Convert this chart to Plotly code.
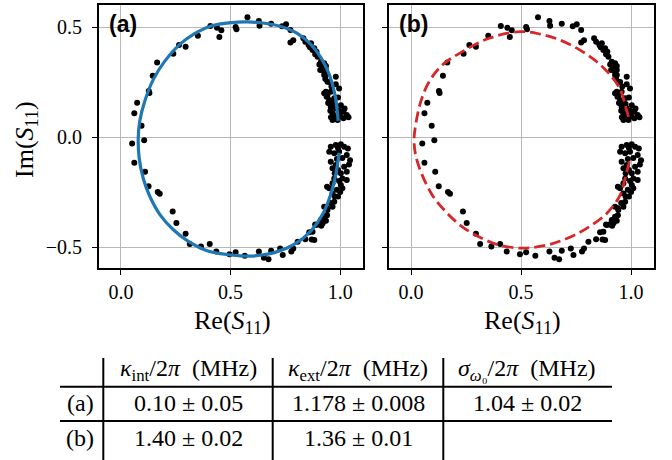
import plotly.graph_objects as go

# ---------------- data ----------------
re_s11 = [
    0.408, 0.438, 0.458, 0.449, 0.351, 0.265, 0.295, 0.239, 0.165, 0.145, 0.127, 0.130, 0.074, 0.061, 0.094, 0.106,
    0.051, 0.061, 0.110, 0.126, 0.168, 0.177, 0.236, 0.253, 0.295, 0.314, 0.365, 0.405, 0.435, 0.495,
    0.523, 0.565, 0.629, 0.652, 0.673, 0.685, 0.726, 0.738, 0.777, 0.786, 0.806, 0.841, 0.870, 0.859, 0.886, 0.901,
    0.914, 0.927, 0.940, 0.927, 0.940, 0.940,
    0.523, 0.527, 0.577, 0.629, 0.632, 0.685, 0.735, 0.753, 0.773, 0.773, 0.786, 0.832, 0.841, 0.856, 0.862, 0.874,
    0.886, 0.897, 0.905, 0.924, 0.935, 0.909, 0.927, 0.935, 0.932, 0.942, 0.927, 0.938,
    0.867, 0.882, 0.892, 0.912, 0.927, 0.920, 0.935, 0.927, 0.980, 0.995, 0.935, 0.942, 0.957, 0.950, 0.965, 0.973,
    0.957, 0.980, 1.003, 0.965, 0.988, 1.015, 1.030, 0.965, 0.988, 1.015, 1.038,
    0.950, 0.960, 0.945, 0.975, 0.955, 0.998, 0.975, 1.000, 0.958, 1.020, 0.990, 0.980,
    0.957, 0.980, 1.003, 1.018, 1.035, 0.950, 0.973, 0.995, 1.030, 1.045, 0.957, 0.980, 1.018, 1.030, 0.965, 1.003,
    1.010, 1.030, 0.973, 0.965, 1.003, 1.010, 0.950, 0.965, 0.973, 0.965, 0.942, 0.912, 0.920, 0.889, 0.874, 0.882,
    0.990, 1.010, 0.985, 0.990, 1.040, 0.975, 0.995, 0.985, 0.990, 0.975, 1.000, 0.955, 0.935,
]
im_s11 = [
    0.505, 0.497, 0.485, 0.455, 0.460, 0.418, 0.410, 0.379, 0.339, 0.279, 0.209, 0.200, 0.156, 0.108, 0.051, -0.015,
    -0.029, -0.117, -0.158, -0.223, -0.250, -0.258, -0.338, -0.391, -0.439, -0.486, -0.497, -0.486, -0.520, -0.532,
    -0.524, -0.539, -0.520, -0.548, -0.555, -0.517, -0.506, -0.536, -0.520, -0.506, -0.476, -0.464, -0.465, -0.433,
    -0.397, -0.397, -0.403, -0.362, -0.355, -0.317, -0.324, -0.226,
    0.500, 0.490, 0.544, 0.527, 0.506, 0.515, 0.503, 0.512, 0.486, 0.430, 0.440, 0.449, 0.433, 0.418, 0.408, 0.395,
    0.376, 0.365, 0.330, 0.327, 0.323, 0.305, 0.297, 0.282, 0.264, 0.251, 0.199, 0.183,
    0.426, 0.403, 0.388, 0.342, 0.335, 0.320, 0.305, 0.282, 0.274, 0.221, 0.206, 0.191, 0.206, 0.168, 0.160, 0.176,
    0.138, 0.130, 0.145, 0.108, 0.100, 0.115, 0.100, 0.077, 0.077, 0.085, 0.090,
    0.250, 0.230, 0.155, 0.150, 0.120, 0.118, 0.092, 0.095, 0.090, 0.130, 0.180, 0.240,
    -0.044, -0.036, -0.033, -0.044, -0.052, -0.067, -0.074, -0.067, -0.082, -0.105, -0.112, -0.127, -0.135, -0.158,
    -0.142, -0.165, -0.188, -0.195, -0.188, -0.210, -0.218, -0.233, -0.233, -0.256, -0.294, -0.317, -0.332, -0.377,
    -0.392, -0.400, -0.430, -0.468,
    -0.050, -0.095, -0.100, -0.150, -0.125, -0.165, -0.200, -0.240, -0.270, -0.270, -0.250, -0.300, -0.380,
]

fit_a_re = [0.991, 0.976, 0.950, 0.912, 0.866, 0.806, 0.730, 0.655, 0.579, 0.503, 0.412, 0.336, 0.268,
            0.200, 0.148, 0.109, 0.086, 0.079, 0.083, 0.101, 0.131, 0.177, 0.238, 0.306, 0.397, 0.503,
            0.594, 0.700, 0.790, 0.866, 0.920, 0.957, 0.980, 0.995]
fit_a_im = [0.073, 0.194, 0.285, 0.361, 0.421, 0.470, 0.502, 0.517, 0.523, 0.520, 0.505, 0.470, 0.421,
            0.345, 0.262, 0.164, 0.073, -0.003, -0.094, -0.185, -0.268, -0.351, -0.420, -0.473, -0.518,
            -0.536, -0.541, -0.525, -0.488, -0.427, -0.351, -0.260, -0.170, -0.071]

fit_b_re = [0.988, 0.973, 0.950, 0.905, 0.844, 0.768, 0.677, 0.586, 0.497, 0.355, 0.233, 0.142, 0.082,
            0.044, 0.021, 0.014, 0.021, 0.051, 0.097, 0.158, 0.233, 0.324, 0.400, 0.510, 0.617, 0.708,
            0.798, 0.889, 0.950, 0.973, 0.997]
fit_b_im = [0.092, 0.145, 0.218, 0.282, 0.342, 0.395, 0.441, 0.468, 0.479, 0.449, 0.388, 0.327, 0.251,
            0.160, 0.055, -0.010, -0.082, -0.173, -0.264, -0.339, -0.408, -0.461, -0.491, -0.505, -0.491,
            -0.461, -0.415, -0.347, -0.264, -0.188, -0.090]

x_ticks = [0.0, 0.5, 1.0]
y_ticks = [-0.5, 0.0, 0.5]
panel_labels = ["(a)", "(b)"]

table_header = ["<i>κ</i><sub>int</sub>/2<i>π</i>  (MHz)",
                "<i>κ</i><sub>ext</sub>/2<i>π</i>  (MHz)",
                "<i>σ</i><sub><i>ω</i>₀</sub>/2<i>π</i>  (MHz)"]
table_rows = ["(a)", "(b)"]
table_cells = [["0.10 ± 0.05", "1.178 ± 0.008", "1.04 ± 0.02"],
               ["1.40 ± 0.02", "1.36 ± 0.01", ""]]

# ---------------- figure ----------------
W, H = 672, 460
SERIF = "Liberation Serif, DejaVu Serif, serif"

def px_x(p):
    return p / W

def px_y(p):
    return 1 - p / H

fig = go.Figure()

for ax in ["", "2"]:
    fig.add_trace(go.Scatter(x=re_s11, y=im_s11, mode="markers",
                             marker=dict(color="black", size=6),
                             xaxis="x" + ax, yaxis="y" + ax, showlegend=False))

fig.add_trace(go.Scatter(x=fit_a_re, y=fit_a_im, mode="lines",
                         line=dict(color="#1f77b4", width=3.2, shape="spline"),
                         xaxis="x", yaxis="y", showlegend=False))
fig.add_trace(go.Scatter(x=fit_b_re, y=fit_b_im, mode="lines",
                         line=dict(color="#d62728", width=2.8, shape="spline", dash="11px,5px"),
                         xaxis="x2", yaxis="y2", showlegend=False))

xr = [-0.1, 1.104]
yr = [-0.595, 0.60]
ydom = [px_y(268), px_y(5)]

common = dict(showline=True, linecolor="black", linewidth=1.8, mirror=True,
              showgrid=True, gridcolor="#b8b8b8", gridwidth=1, zeroline=False,
              ticks="outside", ticklen=5, tickwidth=1.2, tickcolor="black",
              tickfont=dict(family=SERIF, size=20, color="black"))

fig.update_layout(
    width=W, height=H,
    margin=dict(l=0, r=0, t=0, b=0),
    paper_bgcolor="white", plot_bgcolor="white",
    xaxis=dict(domain=[px_x(99), px_x(363)], range=xr, tickvals=x_ticks,
               ticktext=[f"{v:.1f}" for v in x_ticks], anchor="y", **common),
    yaxis=dict(domain=ydom, range=yr, tickvals=y_ticks, ticklabelstandoff=6,
               ticktext=[f"{v:.1f}".replace("-", "−") for v in y_ticks], anchor="x", **common),
    xaxis2=dict(domain=[px_x(389), px_x(654)], range=xr, tickvals=x_ticks,
                ticktext=[f"{v:.1f}" for v in x_ticks], anchor="y2", **common),
    yaxis2=dict(domain=ydom, range=yr, tickvals=y_ticks, showticklabels=False,
                anchor="x2", **common),
)

ann = []
# panel labels
for lab, xp in zip(panel_labels, [107, 397]):
    ann.append(dict(text=f"<b>{lab}</b>", x=px_x(xp), y=px_y(9), xref="paper", yref="paper",
                    xanchor="left", yanchor="top", showarrow=False,
                    font=dict(family="Liberation Sans, Arial, sans-serif", size=23, color="black")))
# axis titles
for xc in [232, 522]:
    ann.append(dict(text="Re(<i>S</i><sub>11</sub>)", x=px_x(xc), y=px_y(322), xref="paper", yref="paper",
                    xanchor="center", yanchor="middle", showarrow=False,
                    font=dict(family=SERIF, size=26, color="black")))
ann.append(dict(text="Im(<i>S</i><sub>11</sub>)", x=px_x(26), y=px_y(140), xref="paper", yref="paper",
                xanchor="center", yanchor="middle", showarrow=False, textangle=-90,
                font=dict(family=SERIF, size=26, color="black")))

# table text
col_centers = [188, 358, 527]
row_centers = [403, 438]
tfont = dict(family=SERIF, size=24, color="black")
for txt, xc in zip(table_header, col_centers):
    ann.append(dict(text=txt, x=px_x(xc), y=px_y(370), xref="paper", yref="paper",
                    xanchor="center", yanchor="middle", showarrow=False, font=tfont))
for r, (rl, yc) in enumerate(zip(table_rows, row_centers)):
    ann.append(dict(text=rl, x=px_x(80), y=px_y(yc), xref="paper", yref="paper",
                    xanchor="center", yanchor="middle", showarrow=False, font=tfont))
    for c, xc in enumerate(col_centers):
        if table_cells[r][c]:
            ann.append(dict(text=table_cells[r][c], x=px_x(xc), y=px_y(yc), xref="paper", yref="paper",
                            xanchor="center", yanchor="middle", showarrow=False, font=tfont))
fig.update_layout(annotations=ann)

shapes = []
for yl in [386.7, 421]:
    shapes.append(dict(type="line", xref="paper", yref="paper", x0=px_x(60), x1=px_x(612),
                       y0=px_y(yl), y1=px_y(yl), line=dict(color="black", width=2)))
for xl in [103.3, 272.7, 443.3]:
    shapes.append(dict(type="line", xref="paper", yref="paper", x0=px_x(xl), x1=px_x(xl),
                       y0=px_y(358), y1=px_y(460), line=dict(color="black", width=2)))
fig.update_layout(shapes=shapes)

fig.write_html("out.html")
